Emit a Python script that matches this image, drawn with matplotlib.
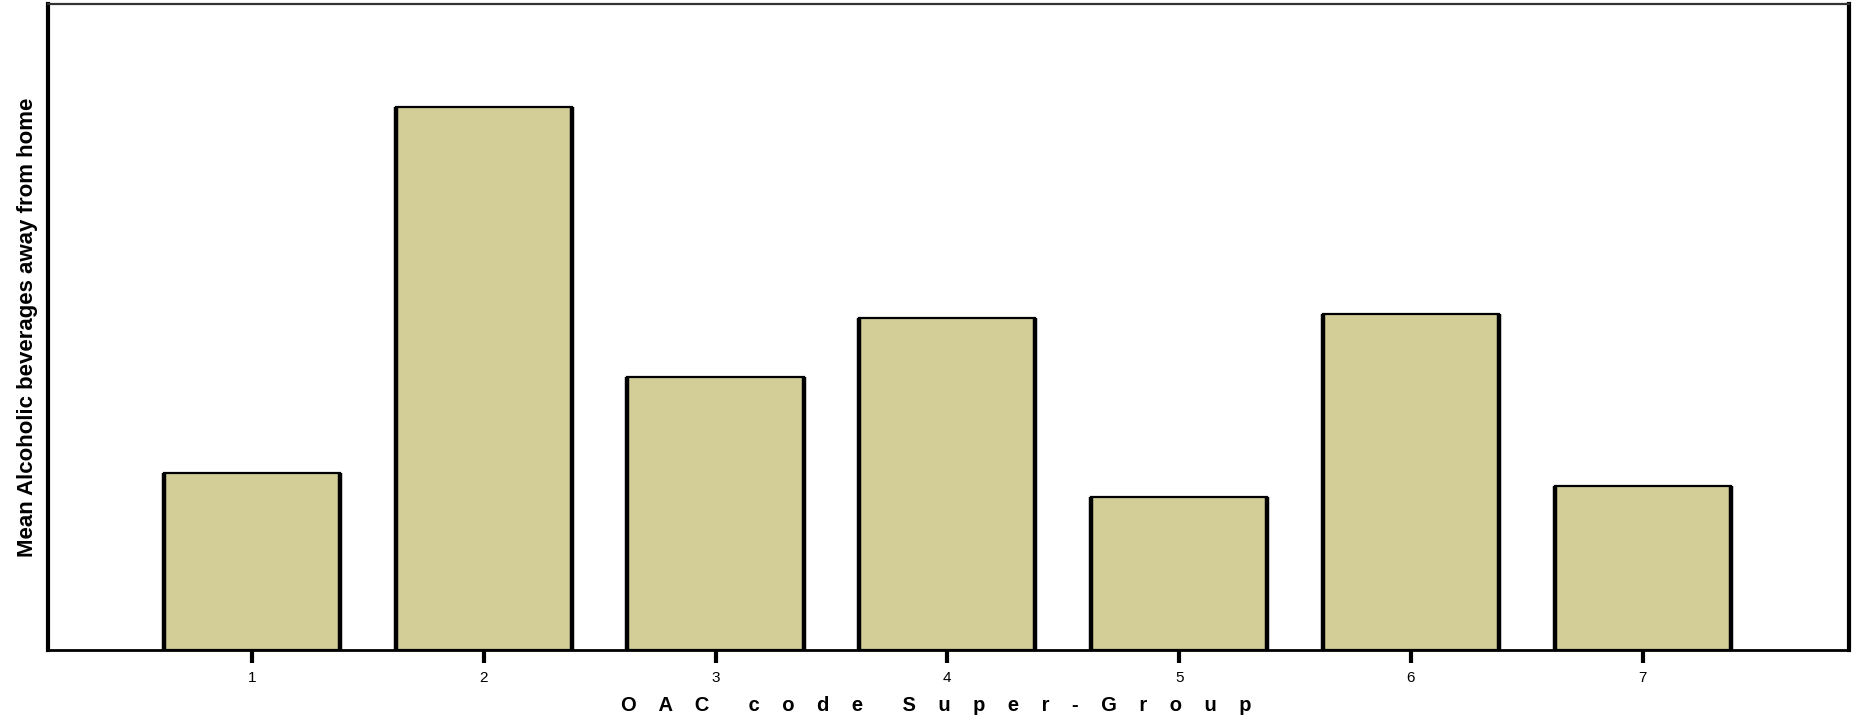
import matplotlib
matplotlib.use("Agg")
import matplotlib.pyplot as plt
import numpy as np

# OAC super-group means (no y scale shown, values read relative to axis height)
groups = [1, 2, 3, 4, 5, 6, 7]
means = [1.65, 5.04, 2.54, 3.09, 1.42, 3.12, 1.53]
tick_labels = ["1", "2", "3", "4", "5", "6", "7"]
x_title = "OAC code Super-Group"

plt.rcParams['font.family'] = ['Liberation Sans', 'DejaVu Sans']

fig = plt.figure(figsize=(18.54, 7.23), dpi=100)
ax = fig.add_axes([0.0259, 0.1003, 0.9714, 0.8942])

w = 0.76
x = np.array(groups)
ax.bar(x, means, width=w, color='#d3ce97', edgecolor='black', linewidth=1.6, zorder=2)
# thicker sides on bars
ax.vlines(x - w / 2, 0, means, colors='black', linewidth=3.2, zorder=3)
ax.vlines(x + w / 2, 0, means, colors='black', linewidth=3.2, zorder=3)

ax.set_xlim(0.12, 7.89)
ax.set_ylim(0, 6.0)
ax.set_xticks(x)
ax.set_xticklabels(tick_labels, fontsize=11)
ax.set_yticks([])
ax.tick_params(axis='x', direction='out', length=9, width=3, pad=6, color='black')

for s in ['left', 'right']:
    ax.spines[s].set_linewidth(3)
ax.spines['bottom'].set_linewidth(2)
ax.spines['top'].set_linewidth(1.6)
ax.spines['top'].set_color('#333333')

# spread-out letters like the original export
spaced = "       ".join("    ".join(word) for word in x_title.split(" "))
ax.set_xlabel(spaced, fontsize=14.5, fontweight='bold', labelpad=8)
ax.xaxis.label.set_x(0.493)
ax.set_ylabel("Mean Alcoholic beverages away from home", fontsize=16,
              fontweight='bold', labelpad=7)

fig.savefig("out.png", dpi=100)
